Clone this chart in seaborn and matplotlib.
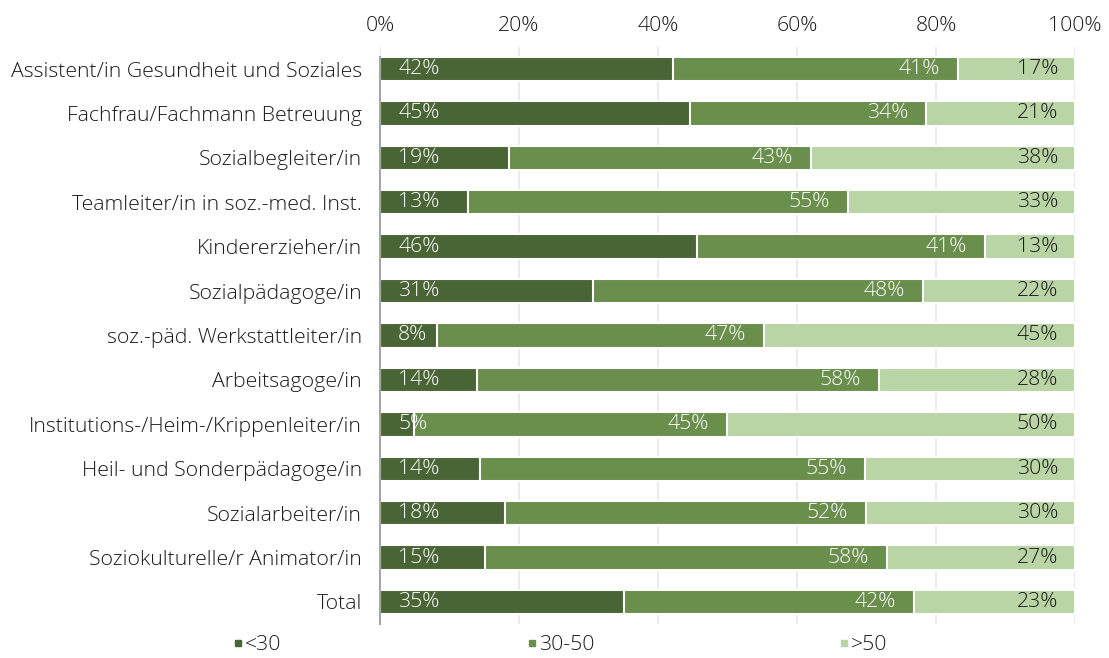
import matplotlib
matplotlib.use("Agg")
import matplotlib.pyplot as plt
import seaborn as sns
import numpy as np
import pandas as pd
from matplotlib.lines import Line2D

categories = [
    "Assistent/in Gesundheit und Soziales",
    "Fachfrau/Fachmann Betreuung",
    "Sozialbegleiter/in",
    "Teamleiter/in in soz.-med. Inst.",
    "Kindererzieher/in",
    "Sozialpädagoge/in",
    "soz.-päd. Werkstattleiter/in",
    "Arbeitsagoge/in",
    "Institutions-/Heim-/Krippenleiter/in",
    "Heil- und Sonderpädagoge/in",
    "Sozialarbeiter/in",
    "Soziokulturelle/r Animator/in",
    "Total",
]
under30 = [42.2, 44.6, 18.6, 12.6, 45.6, 30.6, 8.2, 14.0, 4.9, 14.4, 18.0, 15.1, 35.1]
mid30_50 = [41.0, 34.0, 43.4, 54.8, 41.4, 47.5, 47.1, 57.8, 45.0, 55.4, 51.9, 57.8, 41.7]
over50 = [16.8, 21.4, 38.0, 32.6, 13.0, 21.9, 44.7, 28.2, 50.1, 30.2, 30.1, 27.1, 23.2]
series_names = ["<30", "30-50", ">50"]
colors = ["#4a6535", "#6a8f4c", "#b9d4a5"]

df = pd.DataFrame({"cat": categories, "a": under30, "b": mid30_50, "c": over50})
df["cum1"] = df["a"]
df["cum2"] = df["a"] + df["b"]
df["cum3"] = df["a"] + df["b"] + df["c"]

sns.set_theme(style="white")
plt.rcParams["font.family"] = ["Open Sans", "DejaVu Sans"]
plt.rcParams["font.weight"] = "light"

FS = 15.3

fig = plt.figure(figsize=(11.09, 6.58), dpi=100)
ax = fig.add_axes([380 / 1109, 1 - 624.2 / 658, 695 / 1109, (624.2 - 46.8) / 658])

for col, color in zip(["cum3", "cum2", "cum1"], [colors[2], colors[1], colors[0]]):
    sns.barplot(data=df, y="cat", x=col, orient="h", color=color, width=0.55,
                edgecolor="white", linewidth=1.5, ax=ax, saturation=1)

for i, row in df.iterrows():
    ax.text(2.6, i, f"{row['a']:.0f}%", color="white", va="center",
            ha="left", fontsize=FS)
    ax.text(row["cum2"] - 2.6, i, f"{row['b']:.0f}%", color="white", va="center",
            ha="right", fontsize=FS)
    ax.text(row["cum3"] - 2.4, i, f"{row['c']:.0f}%", color="#1a1a1a", va="center",
            ha="right", fontsize=FS)

ax.set_xlim(0, 100)
ax.set_ylim(12.5, -0.5)
ax.set_xticks([0, 20, 40, 60, 80, 100])
ax.set_xticklabels(["0%", "20%", "40%", "60%", "80%", "100%"])
ax.xaxis.tick_top()
ax.tick_params(axis="x", length=0, pad=8, labelsize=FS, colors="#1a1a1a")
ax.tick_params(axis="y", length=0, pad=13, labelsize=FS, colors="#1a1a1a")
ax.set_xlabel("")
ax.set_ylabel("")
ax.grid(axis="x", color="#e8e8e8", linewidth=1.2)
ax.set_axisbelow(True)
for s in ["top", "right", "bottom"]:
    ax.spines[s].set_visible(False)
ax.spines["left"].set_color("#a6a6a6")
ax.spines["left"].set_linewidth(1.5)
ax.spines["left"].set_bounds(12.5, -0.27)

handles = [Line2D([0], [0], marker="s", linestyle="", markersize=5, color=c) for c in colors]
fig.legend(handles, series_names, loc="center", bbox_to_anchor=(561 / 1109, 1 - 645 / 658),
           ncol=3, frameon=False, fontsize=FS, handlelength=0.35, handletextpad=0.15,
           columnspacing=11.6, labelcolor="#1a1a1a")

fig.savefig("out.png", dpi=100)
